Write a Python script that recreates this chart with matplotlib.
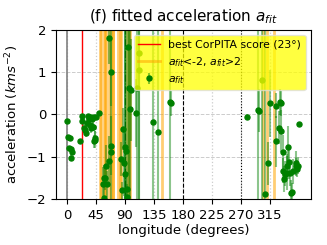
#!/usr/bin/env python3
"""Fitted acceleration a_fit against longitude, panel (f)."""

import matplotlib
matplotlib.use("Agg")
import matplotlib.pyplot as plt

# point fits: longitude (deg), acceleration (km s^-2), error
LON = [0, 2, 5, 3, 6, 8, 6.5, 20, 23, 24, 26, 28, 29, 32, 33, 35, 36, 37, 38,
       40, 41, 39, 43, 44, 42, 46, 42.5, 50, 56, 59, 57, 61.5, 64.7, 62, 58,
       65, 68, 68, 69, 84, 86, 87, 88.5, 90, 90.5, 91.5, 92.6, 93, 94.7, 96,
       98, 100, 108, 109, 112, 112.5, 134.5, 141.7, 160, 161, 279, 297, 298.5,
       303, 308, 312.5, 315, 324, 324, 329.5, 331.5, 332, 333, 335, 336, 337,
       339, 341, 342, 344, 344.5, 347, 348, 350, 351, 355, 356, 359, 358, 361]
ACC = [-0.15, -0.53, -0.56, -0.80, -0.83, -0.90, -1.02, -0.64, -0.04, -0.15,
       -0.33, -0.38, -0.45, -0.21, -0.03, -0.12, -0.25, -0.33, -0.07, -0.30,
       -0.29, -0.11, -0.55, -0.60, -0.64, -0.07, -0.06, 0.03, -1.65, -1.50,
       -1.50, -1.22, -1.10, -1.65, -1.98, 1.80, 1.01, -0.74, -0.90, -1.05,
       -1.80, -0.34, -1.14, -1.42, -0.77, -0.86, -1.77, -1.95, 1.60, 0.63,
       0.13, 0.58, 0.04, 0.63, 1.45, 1.04, -0.18, -0.42, 0.29, 0.26, -0.05,
       0.11, 0.09, 0.82, -1.88, -1.16, 0.26, 0.21, -0.64, -0.31, 0.29, 0.26,
       -0.39, -0.88, -1.33, -1.53, -1.40, -1.23, -1.39, -0.77, -1.13, -1.39,
       -1.85, -1.83, -1.35, -1.16, -1.23, -1.21, -1.29, -0.22]
ERR = [0.05, 0.05, 0.05, 0.05, 0.05, 0.05, 0.07, 0.05, 0.05, 0.08, 0.1, 0.1,
       0.08, 0.1, 0.05, 0.08, 0.1, 0.1, 0.05, 0.1, 0.1, 0.08, 0.15, 0.2, 0.15,
       0.05, 0.05, 0.05, 0.4, 0.3, 0.3, 0.5, 0.6, 0.3, 0.2, 0.6, 0.8, 0.7, 4,
       0.4, 0.2, 0.5, 0.8, 4, 3, 4, 0.3, 0.3, 3, 3, 3, 1.2, 0.8, 3.5, 4, 4, 4,
       4, 4, 0.3, 0.05, 4, 0.5, 4, 4, 0.5, 0.8, 0.3, 0.6, 0.4, 0.3, 0.3, 0.5,
       0.4, 0.3, 0.3, 0.3, 0.3, 0.4, 0.5, 0.4, 0.3, 0.3, 0.2, 0.3, 0.3, 0.2,
       0.2, 0.2, 0.05]

# fits that fell outside [-2, 2]
LON_OUT = [51, 53, 57, 59, 60, 66, 68, 71, 72, 80, 82, 84, 94, 96, 98, 148,
           305, 310, 321]

BEST_LON = 23
XTICKS = [0, 45, 90, 135, 180, 225, 270, 315]

fig = plt.figure(figsize=(3.27, 2.45), dpi=100)
ax = fig.add_axes([0.171, 0.188, 0.78, 0.69])

ax.grid(True, axis="y", color="#cccccc", linestyle="--", linewidth=0.7)
ax.grid(True, axis="x", color="#cccccc", linestyle=":", linewidth=0.9)
ax.axvline(0, color="gray", linewidth=1.2)
ax.axvline(90, color="k", linestyle="-.", linewidth=0.8)
ax.axvline(180, color="k", linestyle="--", linewidth=0.8)
ax.axvline(270, color="k", linestyle=":", linewidth=0.8)

ax.axvline(BEST_LON, color="red", linewidth=1.0,
           label="best CorPITA score (23°)")
for i, lo in enumerate(LON_OUT):
    ax.axvline(lo, color="orange", alpha=0.55, linewidth=2,
               label=r"$a_{fit}$<-2, $a_{fit}$>2" if i == 0 else None)

ax.errorbar(LON, ACC, yerr=ERR, fmt="o", color="green", markersize=3.6,
            ecolor=(0.0, 0.5, 0.0, 0.45), elinewidth=1.5, label=r"$a_{fit}$")

ax.set_xlim(-17, 379)
ax.set_ylim(-2, 2)
ax.set_xticks(XTICKS)
ax.set_yticks([-2, -1, 0, 1, 2])
ax.tick_params(labelsize=9.5)
ax.set_xlabel("longitude (degrees)", fontsize=9.5, labelpad=2)
ax.set_ylabel(r"acceleration ($kms^{-2}$)", fontsize=9.5)
ax.set_title(r"(f) fitted acceleration $a_{fit}$", fontsize=11)

leg = ax.legend(loc="upper right", fontsize=7.8, facecolor="yellow",
                framealpha=0.75, edgecolor="#dddddd")

fig.savefig("out.png", dpi=100)
